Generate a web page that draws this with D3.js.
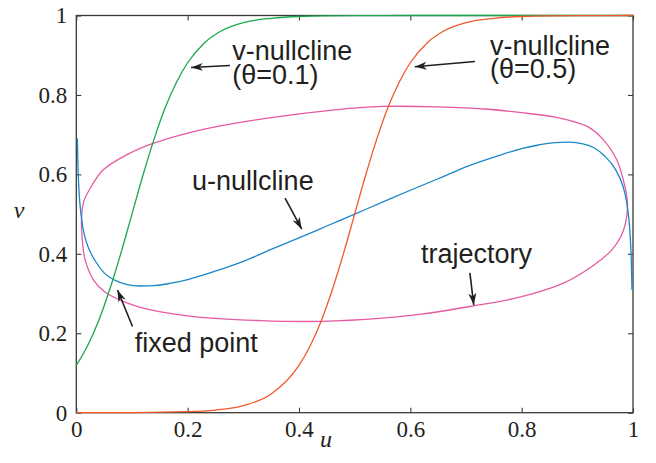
<!DOCTYPE html>
<html>
<head>
<meta charset="utf-8">
<script src="https://cdn.jsdelivr.net/npm/d3@7"></script>
<style>
  html, body { margin: 0; padding: 0; background: #fff; }
  svg { display: block; }
</style>
</head>
<body>
<svg id="chart" width="656" height="463"></svg>
<script>
// ---- data -------------------------------------------------------------
// v-nullcline for theta = 0.1
const vNull01U = [0, 0.02, 0.04, 0.06, 0.08, 0.10, 0.12, 0.14, 0.16, 0.18, 0.20, 0.23, 0.26, 0.30, 0.35, 0.40, 0.50, 0.60, 0.80, 1.00];
const vNull01V = [0.119, 0.168, 0.231, 0.310, 0.401, 0.500, 0.599, 0.690, 0.769, 0.832, 0.881, 0.931, 0.961, 0.982, 0.993, 0.9975, 0.9997, 1, 1, 1];

// v-nullcline for theta = 0.5
const vNull05U = [0, 0.10, 0.20, 0.25, 0.30, 0.35, 0.40, 0.42, 0.44, 0.46, 0.48, 0.50, 0.52, 0.54, 0.56, 0.58, 0.60, 0.63, 0.66, 0.70, 0.75, 0.80, 0.90, 1.00];
const vNull05V = [0, 0.0003, 0.0025, 0.0067, 0.018, 0.047, 0.119, 0.168, 0.231, 0.310, 0.401, 0.500, 0.599, 0.690, 0.769, 0.832, 0.881, 0.931, 0.961, 0.982, 0.993, 0.9975, 0.9997, 1];

// u-nullcline
const uNullU = [0.0018, 0.003, 0.005, 0.008, 0.012, 0.018, 0.025, 0.035, 0.05, 0.07, 0.09, 0.115, 0.14, 0.17, 0.20, 0.24, 0.30, 0.35, 0.40, 0.45, 0.50,
                0.55, 0.60, 0.65, 0.70, 0.76, 0.80, 0.83, 0.86, 0.885, 0.91, 0.93, 0.95, 0.965, 0.975, 0.982, 0.988, 0.992, 0.995, 0.997, 0.9982];
const uNullV = [0.691, 0.620, 0.555, 0.505, 0.465, 0.430, 0.405, 0.380, 0.352, 0.333, 0.323, 0.319, 0.320, 0.326, 0.335, 0.352, 0.381, 0.411, 0.440, 0.470, 0.500,
                0.530, 0.560, 0.589, 0.619, 0.648, 0.665, 0.674, 0.680, 0.681, 0.677, 0.667, 0.645, 0.620, 0.595, 0.570, 0.535, 0.495, 0.445, 0.380, 0.309];

// closed trajectory (limit cycle), clockwise from the left edge
const trajU = [0.0095, 0.013, 0.025, 0.048, 0.09, 0.138, 0.23, 0.34, 0.46, 0.55, 0.65, 0.74, 0.82, 0.86, 0.92, 0.947, 0.971, 0.984, 0.990,
               0.987, 0.978, 0.962, 0.93, 0.875, 0.80, 0.71, 0.62, 0.55, 0.44, 0.33, 0.21, 0.12, 0.078, 0.052, 0.031, 0.016, 0.011];
const trajV = [0.490, 0.530, 0.565, 0.611, 0.649, 0.678, 0.714, 0.741, 0.762, 0.771, 0.770, 0.764, 0.752, 0.744, 0.719, 0.687, 0.636, 0.578, 0.530,
               0.480, 0.443, 0.410, 0.372, 0.326, 0.292, 0.268, 0.248, 0.238, 0.230, 0.232, 0.242, 0.263, 0.284, 0.303, 0.334, 0.384, 0.430];

// axis ticks
const tickValues = [0, 0.2, 0.4, 0.6, 0.8, 1];
const tickLabels = ["0", "0.2", "0.4", "0.6", "0.8", "1"];

// annotations (text anchor and arrow tail/tip in data units)
const noteText = [
  { lines: ["v-nullcline", "(\u03b8=0.1)"], u: 0.280, v: [0.888, 0.828] },
  { lines: ["v-nullcline", "(\u03b8=0.5)"], u: 0.743, v: [0.901, 0.842] },
  { lines: ["u-nullcline"], u: 0.208, v: [0.561] },
  { lines: ["trajectory"],  u: 0.619, v: [0.377] },
  { lines: ["fixed point"], u: 0.105, v: [0.154] }
];
const noteArrows = [
  { from: [0.276, 0.874], to: [0.206, 0.869] },
  { from: [0.716, 0.884], to: [0.608, 0.871] },
  { from: [0.375, 0.540], to: [0.405, 0.462] },
  { from: [0.707, 0.352], to: [0.714, 0.271] },
  { from: [0.101, 0.217], to: [0.074, 0.309] }
];

// ---- layout -----------------------------------------------------------
const svg = d3.select("#chart");
const X0 = 76.3, X1 = 633, Y0 = 412.7, Y1 = 15.5;
const x = d3.scaleLinear().domain([0, 1]).range([X0, X1]);
const y = d3.scaleLinear().domain([0, 1]).range([Y0, Y1]);

const ink = "#231f20";
const frameColor = "#3a3a3a";
const tickFont = "'Liberation Serif', 'Times New Roman', serif";
const noteFont = "'Liberation Sans', Arial, Helvetica, sans-serif";

// frame
svg.append("rect")
  .attr("x", X0).attr("y", Y1)
  .attr("width", X1 - X0).attr("height", Y0 - Y1)
  .attr("fill", "none").attr("stroke", frameColor).attr("stroke-width", 1.3);

function styleAxis(g, showLabels) {
  g.select(".domain").remove();
  g.selectAll(".tick line").attr("stroke", frameColor).attr("stroke-width", 1.1);
  g.selectAll(".tick text")
    .attr("fill", ink)
    .style("font-family", tickFont)
    .style("font-size", "23px");
  if (!showLabels) g.selectAll(".tick text").remove();
}

const fmt = (d, i) => tickLabels[i];

svg.append("g").attr("transform", `translate(0,${Y0})`)
  .call(d3.axisBottom(x).tickValues(tickValues).tickFormat(fmt).tickSizeInner(-5).tickSizeOuter(0).tickPadding(8))
  .call(g => styleAxis(g, true));
svg.append("g").attr("transform", `translate(${X0},0)`)
  .call(d3.axisLeft(y).tickValues(tickValues).tickFormat(fmt).tickSizeInner(-5).tickSizeOuter(0).tickPadding(9))
  .call(g => styleAxis(g, true));
svg.append("g").attr("transform", `translate(0,${Y1})`)
  .call(d3.axisTop(x).tickValues(tickValues).tickFormat("").tickSizeInner(-5).tickSizeOuter(0))
  .call(g => styleAxis(g, false));
svg.append("g").attr("transform", `translate(${X1},0)`)
  .call(d3.axisRight(y).tickValues(tickValues).tickFormat("").tickSizeInner(-5).tickSizeOuter(0))
  .call(g => styleAxis(g, false));

// axis titles
svg.append("text").attr("x", 326).attr("y", 447)
  .attr("text-anchor", "middle").attr("fill", ink)
  .style("font-family", tickFont).style("font-style", "italic").style("font-size", "24px")
  .text("u");
svg.append("text").attr("x", 19).attr("y", 218)
  .attr("text-anchor", "middle").attr("fill", ink)
  .style("font-family", tickFont).style("font-style", "italic").style("font-size", "24px")
  .text("v");

// ---- curves -----------------------------------------------------------
const zip = (us, vs) => us.map((u, i) => [u, vs[i]]);
const fnLine = d3.line().x(d => x(d[0])).y(d => y(d[1])).curve(d3.curveMonotoneX);
const loopLine = d3.line().x(d => x(d[0])).y(d => y(d[1])).curve(d3.curveCatmullRomClosed.alpha(0.5));

const curves = svg.append("g").attr("fill", "none").attr("stroke-width", 1.3);
curves.append("path").attr("d", loopLine(zip(trajU, trajV))).attr("stroke", "#e65aa2");
curves.append("path").attr("d", fnLine(zip(uNullU, uNullV))).attr("stroke", "#1b86c8");
curves.append("path").attr("d", fnLine(zip(vNull01U, vNull01V))).attr("stroke", "#1ba64e");
curves.append("path").attr("d", fnLine(zip(vNull05U, vNull05V))).attr("stroke", "#f0592b");

// ---- annotations ------------------------------------------------------
svg.append("defs").append("marker")
  .attr("id", "head")
  .attr("viewBox", "-12 -5 13 10")
  .attr("markerUnits", "userSpaceOnUse")
  .attr("markerWidth", 13).attr("markerHeight", 10)
  .attr("refX", 0).attr("refY", 0)
  .attr("orient", "auto")
  .append("path")
  .attr("d", "M0,0 L-12,-4 L-8.5,0 L-12,4 Z")
  .attr("fill", ink);

svg.append("g").selectAll("line").data(noteArrows).join("line")
  .attr("x1", d => x(d.from[0])).attr("y1", d => y(d.from[1]))
  .attr("x2", d => x(d.to[0])).attr("y2", d => y(d.to[1]))
  .attr("stroke", ink).attr("stroke-width", 1.6)
  .attr("marker-end", "url(#head)");

// each note is one text block; extra lines become tspans
const notes = svg.append("g")
  .attr("fill", ink)
  .style("font-family", noteFont)
  .style("font-size", "27px");
noteText.forEach(n => {
  const t = notes.append("text");
  n.lines.forEach((line, i) => {
    t.append("tspan").attr("x", x(n.u)).attr("y", y(n.v[i])).text(line);
  });
});
</script>
</body>
</html>
